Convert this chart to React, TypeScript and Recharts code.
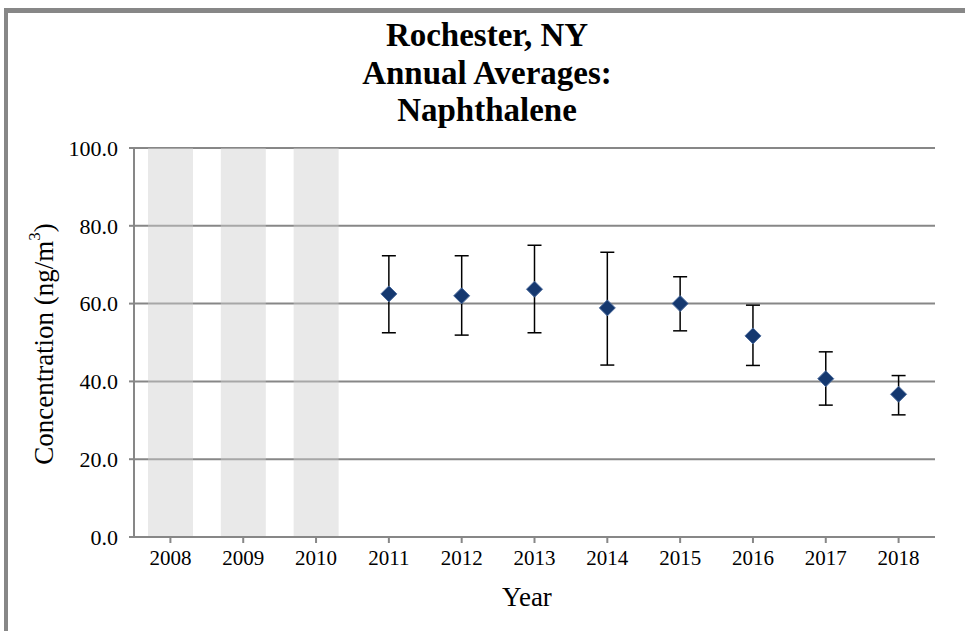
import {
  ComposedChart,
  Bar,
  Line,
  ErrorBar,
  XAxis,
  YAxis,
  CartesianGrid,
} from "recharts";

const YEARS = ["2008", "2009", "2010", "2011", "2012", "2013", "2014", "2015", "2016", "2017", "2018"];
// years without a full sampling record are shaded
const SHADED = [100, 100, 100, null, null, null, null, null, null, null, null];
const MEANS = [null, null, null, 62.5, 62.0, 63.7, 58.9, 60.0, 51.7, 40.7, 36.7];
const LOWS = [null, null, null, 52.5, 51.9, 52.5, 44.2, 53.0, 44.1, 33.9, 31.4];
const HIGHS = [null, null, null, 72.3, 72.3, 75.0, 73.2, 66.9, 59.6, 47.6, 41.5];
const Y_TICKS = [0, 20, 40, 60, 80, 100];

const SERIF = '"Liberation Serif", "Times New Roman", serif';
const GRID = "#878787";

const data = YEARS.map((year, i) => {
  const m = MEANS[i];
  const lo = LOWS[i];
  const hi = HIGHS[i];
  return {
    year,
    shade: SHADED[i],
    mean: m,
    err: m == null || lo == null || hi == null ? null : [m - lo, hi - m],
  };
});

function Diamond(props: any) {
  const { cx, cy, index } = props;
  if (cx == null || cy == null || props.value == null) return <g key={index} />;
  const r = 8;
  return (
    <polygon
      key={index}
      points={`${cx},${cy - r} ${cx + r},${cy} ${cx},${cy + r} ${cx - r},${cy}`}
      fill="#15386f"
      stroke="#4a6a9c"
      strokeWidth={1}
    />
  );
}

function YTitle() {
  return (
    <text
      x={44}
      y={344}
      transform="rotate(-90 44 344)"
      textAnchor="middle"
      dominantBaseline="central"
      fontFamily={SERIF}
      fontSize={27}
      fill="#000"
    >
      Concentration (ng/m
      <tspan dy={-10} fontSize={17}>3</tspan>
      <tspan dy={10}>)</tspan>
    </text>
  );
}

function XTitle() {
  return (
    <text x={527} y={606} textAnchor="middle" fontFamily={SERIF} fontSize={27} fill="#000">
      Year
    </text>
  );
}

export default function App() {
  return (
    <div
      style={{
        position: "fixed",
        left: 0,
        top: 0,
        width: 965,
        height: 631,
        overflow: "hidden",
        background: "#fff",
      }}
    >
      {/* frame of the original worksheet */}
      <div
        style={{
          position: "absolute",
          left: 4,
          top: 8,
          width: 1000,
          height: 700,
          borderLeft: `4px solid ${GRID}`,
          borderTop: `5px solid ${GRID}`,
        }}
      />
      <div
        style={{
          position: "absolute",
          left: 287,
          top: 17,
          width: 400,
          textAlign: "center",
          fontFamily: SERIF,
          fontWeight: "bold",
          fontSize: 33,
          lineHeight: "37.5px",
          color: "#000",
        }}
      >
        Rochester, NY
        <br />
        Annual Averages:
        <br />
        Naphthalene
      </div>
      <div style={{ position: "absolute", left: 0, top: 0 }}>
        <ComposedChart
          width={965}
          height={631}
          data={data}
          margin={{ top: 148, right: 30, bottom: 64, left: 64 }}
          barSize={45}
        >
          <CartesianGrid vertical={false} stroke={GRID} strokeWidth={2} />
          <XAxis
            dataKey="year"
            height={30}
            interval={0}
            stroke={GRID}
            strokeWidth={2}
            tickSize={6}
            tickMargin={7}
            tick={{ fill: "#000", fontFamily: SERIF, fontSize: 21 }}
            label={<XTitle />}
          />
          <YAxis
            width={70}
            domain={[0, 100]}
            ticks={Y_TICKS}
            tickFormatter={(v: number) => v.toFixed(1)}
            stroke={GRID}
            strokeWidth={2}
            tickSize={5}
            tickMargin={11}
            tick={{ fill: "#000", fontFamily: SERIF, fontSize: 22 }}
            label={<YTitle />}
          />
          <Bar dataKey="shade" fill="#cfcfcf" fillOpacity={0.45} isAnimationActive={false} />
          <Line
            dataKey="mean"
            stroke="none"
            strokeWidth={0}
            dot={<Diamond />}
            activeDot={false}
            isAnimationActive={false}
          >
            <ErrorBar dataKey="err" direction="y" width={7} stroke="#000" strokeWidth={1.5} />
          </Line>
        </ComposedChart>
      </div>
    </div>
  );
}
